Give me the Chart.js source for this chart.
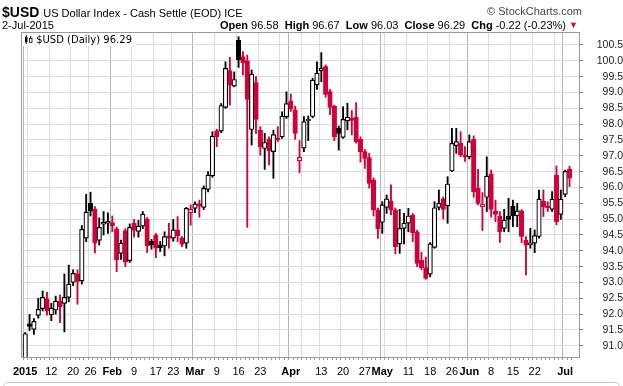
<!DOCTYPE html>
<html>
<head>
<meta charset="utf-8">
<script src="https://cdn.jsdelivr.net/npm/chart.js@4.4.1/dist/chart.umd.min.js"></script>
<style>
  body { margin: 0; background: #fff; }
  #wrap { position: relative; width: 623px; height: 386px; overflow: hidden; font-family: "Liberation Sans", Arial, sans-serif; color: #000; }
  #myChart { position: absolute; left: 0; top: 0; }
  .t { position: absolute; white-space: nowrap; }
  .t b { font-weight: bold; }
</style>
</head>
<body>
<div id="wrap">
  <canvas id="myChart" width="623" height="386"></canvas>
  <div class="t" style="left:2px;top:4px;font-size:14px;font-weight:bold;">$USD <span style="font-size:11px;font-weight:normal;">US Dollar Index - Cash Settle (EOD) ICE</span></div>
  <div class="t" style="right:41px;top:5px;font-size:11px;color:#444;">&copy; StockCharts.com</div>
  <div class="t" style="left:2px;top:19px;font-size:11px;">2-Jul-2015</div>
  <div class="t" style="right:57px;top:19px;font-size:11px;"><b>Open</b> 96.58 &nbsp;<b>High</b> 96.67 &nbsp;<b>Low</b> 96.03 &nbsp;<b>Close</b> 96.29 &nbsp;<b>Chg</b> -0.22 (-0.23%)</div>
  <div class="t" style="left:569px;top:20px;font-size:9px;color:#d0003a;">&#9660;</div>
  <div class="t" style="left:22px;top:33px;background:#fff;padding:1px 4px 1px 2px;font-family:'DejaVu Sans';font-size:10px;">
    <svg width="9" height="9" style="vertical-align:-1px"><rect x="1" y="2" width="2.5" height="5" fill="#000"/><line x1="2.2" y1="0" x2="2.2" y2="9" stroke="#000"/><rect x="5.5" y="3.5" width="2.5" height="4" fill="#fff" stroke="#000" stroke-width="0.8"/><line x1="6.7" y1="1" x2="6.7" y2="3.5" stroke="#000"/></svg>
    $USD (Daily) 96.29</div>
  <div style="position:absolute;left:3px;top:382px;width:615px;height:30px;border:1px solid #c8c8c8;border-radius:5px;"></div>
</div>
<script>
// daily candles, 2 Jan 2015 - 2 Jul 2015, one entry per trading day
const openP = [90.30,91.69,91.52,91.96,92.17,92.48,91.98,92.13,92.41,92.34,
  92.53,93.00,93.27,93.05,94.40,95.50,95.32,94.33,94.84,94.87,
  94.89,94.69,93.92,94.64,93.69,94.87,94.61,94.78,95.00,94.30,
  94.50,94.18,94.15,94.47,94.40,94.66,94.41,94.24,95.20,95.34,
  95.48,95.37,95.94,96.37,97.79,97.78,98.53,99.69,99.20,100.65,
  100.13,100.00,97.83,99.31,97.81,97.23,97.53,97.13,97.57,97.60,
  98.23,98.73,98.45,96.84,97.24,98.11,98.24,99.24,99.68,99.82,
  99.03,98.57,97.87,97.58,98.10,98.18,98.22,97.52,97.13,96.94,
  96.24,95.29,94.90,95.37,95.58,95.29,94.22,94.71,94.87,95.13,
  94.60,93.71,93.47,93.26,94.11,95.37,95.64,95.42,96.52,97.32,
  97.39,97.03,96.97,97.52,95.97,95.39,95.69,96.43,95.26,95.10,
  94.71,95.10,95.41,95.10,95.26,94.34,94.19,94.24,94.45,95.57,
  95.41,95.31,96.39,95.15,95.78,96.58];
const highP = [91.42,91.99,91.86,92.50,92.73,92.69,92.34,92.57,92.60,93.27,
  93.55,93.40,93.40,94.80,95.78,95.85,95.40,95.04,95.24,95.20,
  95.10,94.75,94.34,94.70,94.85,94.99,94.96,95.24,95.05,94.36,
  94.55,94.30,94.60,94.87,94.99,95.08,94.45,95.37,95.45,95.55,
  95.60,96.05,96.50,97.76,97.84,98.65,99.97,100.11,99.65,100.76,
  100.29,100.18,99.71,99.50,97.92,97.71,97.60,97.81,97.92,98.39,
  99.02,98.95,98.57,97.48,98.24,98.26,99.45,99.97,100.26,99.87,
  99.10,98.60,97.94,98.55,98.66,98.43,98.68,97.60,97.20,97.08,
  96.30,95.35,95.55,95.76,96.08,95.35,95.31,95.18,95.34,95.18,
  94.65,93.95,93.80,94.26,95.55,95.92,95.70,96.34,97.87,97.87,
  97.76,97.29,97.66,97.63,96.57,95.84,96.97,96.55,95.60,95.24,
  95.31,95.66,95.60,95.50,95.30,94.45,94.71,94.66,95.92,95.92,
  95.55,95.87,96.68,95.92,96.55,96.67];
const lowP = [90.25,91.48,91.36,91.87,92.10,91.97,91.79,92.00,91.73,91.44,
  92.39,92.90,92.31,92.95,94.29,95.10,93.93,94.18,94.50,94.55,
  94.60,93.34,93.73,93.50,93.63,94.43,94.43,94.70,93.94,94.05,
  93.78,93.98,93.84,94.08,94.30,94.29,94.13,94.08,94.81,95.20,
  95.06,95.30,95.86,96.32,97.29,97.73,98.50,98.60,99.18,99.79,
  99.55,94.74,97.34,97.71,97.02,96.57,96.71,96.29,97.44,97.55,
  98.18,98.40,97.52,96.47,97.13,97.48,98.20,99.10,99.34,98.85,
  98.30,97.48,97.18,97.55,97.82,97.66,97.40,96.80,96.60,95.98,
  95.10,94.39,94.55,95.18,95.13,93.90,93.92,94.22,94.60,94.29,
  93.50,93.40,93.10,93.18,94.08,95.29,95.00,94.87,96.50,97.08,
  96.97,96.82,96.90,95.69,95.45,94.64,95.24,95.06,94.92,94.26,
  94.60,94.60,94.76,94.76,94.26,93.24,94.08,93.94,94.40,95.08,
  95.24,95.24,94.82,94.99,95.71,96.03];
const closeP = [91.38,91.61,91.77,92.15,92.53,92.11,92.19,92.41,92.23,92.53,
  92.95,93.29,93.03,94.68,95.22,95.25,94.24,94.74,94.90,94.93,
  94.79,93.71,94.24,93.64,94.74,94.64,94.78,95.16,94.16,94.18,
  94.08,94.10,94.45,94.40,94.66,94.47,94.20,95.34,95.31,95.48,
  95.41,95.97,96.39,97.62,97.60,98.59,99.76,99.23,99.41,100.04,
  99.94,98.78,99.58,98.15,97.29,97.42,97.16,97.67,97.50,98.25,
  98.65,98.47,97.71,96.95,98.08,98.15,99.39,99.61,99.76,98.94,
  98.53,97.60,97.71,98.15,98.22,98.12,97.45,97.13,96.92,96.13,
  95.29,94.69,95.45,95.64,95.29,94.13,94.71,94.87,95.10,94.57,
  93.60,93.47,93.13,94.22,95.36,95.50,95.31,96.11,97.39,97.45,
  97.03,96.97,97.45,95.87,95.50,95.47,96.36,95.31,95.15,94.60,
  94.97,94.99,95.10,95.26,94.45,94.18,94.25,94.48,95.63,95.39,
  95.36,95.63,94.92,95.63,96.51,96.29];

// x axis: trading-day index of each label
const tickDays = [0, 6, 11, 15, 20, 25, 30, 34, 39, 44, 49, 54, 61, 68, 73, 78, 82, 88, 93, 98, 102, 107, 112, 117, 124];
const tickLabels = ["2015", "12", "20", "26", "Feb", "9", "17", "23", "Mar", "9", "16", "23", "Apr", "13", "20", "27", "May", "11", "18", "26", "Jun", "8", "15", "22", "Jul"];
const monthDays = [0, 20, 39, 61, 82, 102, 124];
const weekDays = [1, 6, 11, 15, 20, 25, 30, 34, 39, 44, 49, 54, 59, 64, 68, 73, 78, 83, 88, 93, 98, 102, 107, 112, 117, 122];
const priceTicks = [91.0, 91.5, 92.0, 92.5, 93.0, 93.5, 94.0, 94.5, 95.0, 95.5, 96.0, 96.5, 97.0, 97.5, 98.0, 98.5, 99.0, 99.5, 100.0, 100.5];

const RED = "#d0003a";
const BLACK = "#000";

// stockcharts style: colour from close vs previous close, hollow when close > open
const lineColors = closeP.map((c, i) => (i === 0 || c >= closeP[i - 1]) ? BLACK : RED);
const fillColors = closeP.map((c, i) => c > openP[i] ? "#fff" : lineColors[i]);

const frame = {
  id: "frame",
  afterDraw(chart) {
    const a = chart.chartArea;
    const ctx = chart.ctx;
    ctx.save();
    ctx.strokeStyle = "#9a9a9a";
    ctx.lineWidth = 1;
    ctx.strokeRect(Math.round(a.left) + 0.5, Math.round(a.top) + 0.5, Math.round(a.width) - 1, Math.round(a.height) - 1);
    ctx.restore();
  }
};

const ctx = document.getElementById("myChart").getContext("2d");

new Chart(ctx, {
  type: "bar",
  data: {
    datasets: [{
      label: "body",
      order: 0,
      data: openP.map((o, i) => ({ x: i, y: [o, closeP[i]] })),
      backgroundColor: fillColors,
      borderColor: lineColors,
      borderWidth: 1.2,
      borderSkipped: false,
      barThickness: 4.5,
      grouped: false,
      clip: 0
    }, {
      label: "wick",
      order: 1,
      data: lowP.map((l, i) => ({ x: i, y: [l, highP[i]] })),
      backgroundColor: lineColors,
      borderWidth: 0,
      barThickness: 1.2,
      grouped: false,
      clip: 0
    }]
  },
  options: {
    responsive: false,
    animation: false,
    layout: { padding: { left: 21, top: 32, right: 0, bottom: 0 } },
    plugins: {
      legend: { display: false },
      tooltip: { enabled: false }
    },
    scales: {
      x: {
        type: "linear",
        min: -0.456,
        max: 126.9,
        afterBuildTicks: scale => { scale.ticks = closeP.map((c, i) => ({ value: i })); },
        afterFit: scale => { scale.height = 28; },
        border: { display: false },
        grid: {
          color: c => {
            const v = c.tick ? c.tick.value : -1;
            if (monthDays.includes(v)) return "#b4b4b4";
            if (weekDays.includes(v)) return "#dcdcdc";
            return "rgba(0,0,0,0)";
          },
          tickColor: "#9a9a9a",
          tickLength: 2
        },
        ticks: {
          autoSkip: false,
          maxRotation: 0,
          minRotation: 0,
          padding: 5,
          color: "#000",
          font: c => ({
            family: "Liberation Sans",
            size: 11,
            weight: (c.tick && monthDays.includes(c.tick.value)) ? "bold" : "normal"
          }),
          callback: v => {
            const k = tickDays.indexOf(v);
            return k >= 0 ? tickLabels[k] : "";
          }
        }
      },
      y: {
        position: "right",
        min: 90.614,
        max: 100.91,
        afterBuildTicks: scale => { scale.ticks = priceTicks.map(v => ({ value: v })); },
        afterFit: scale => { scale.width = 43; },
        border: { display: false },
        grid: { color: "#dcdcdc", tickColor: "#777", tickLength: 3 },
        ticks: {
          crossAlign: "far",
          padding: 0,
          color: "#222",
          font: { family: "Liberation Sans", size: 10.5 },
          callback: v => v.toFixed(1)
        }
      }
    }
  },
  plugins: [frame]
});
</script>
</body>
</html>
